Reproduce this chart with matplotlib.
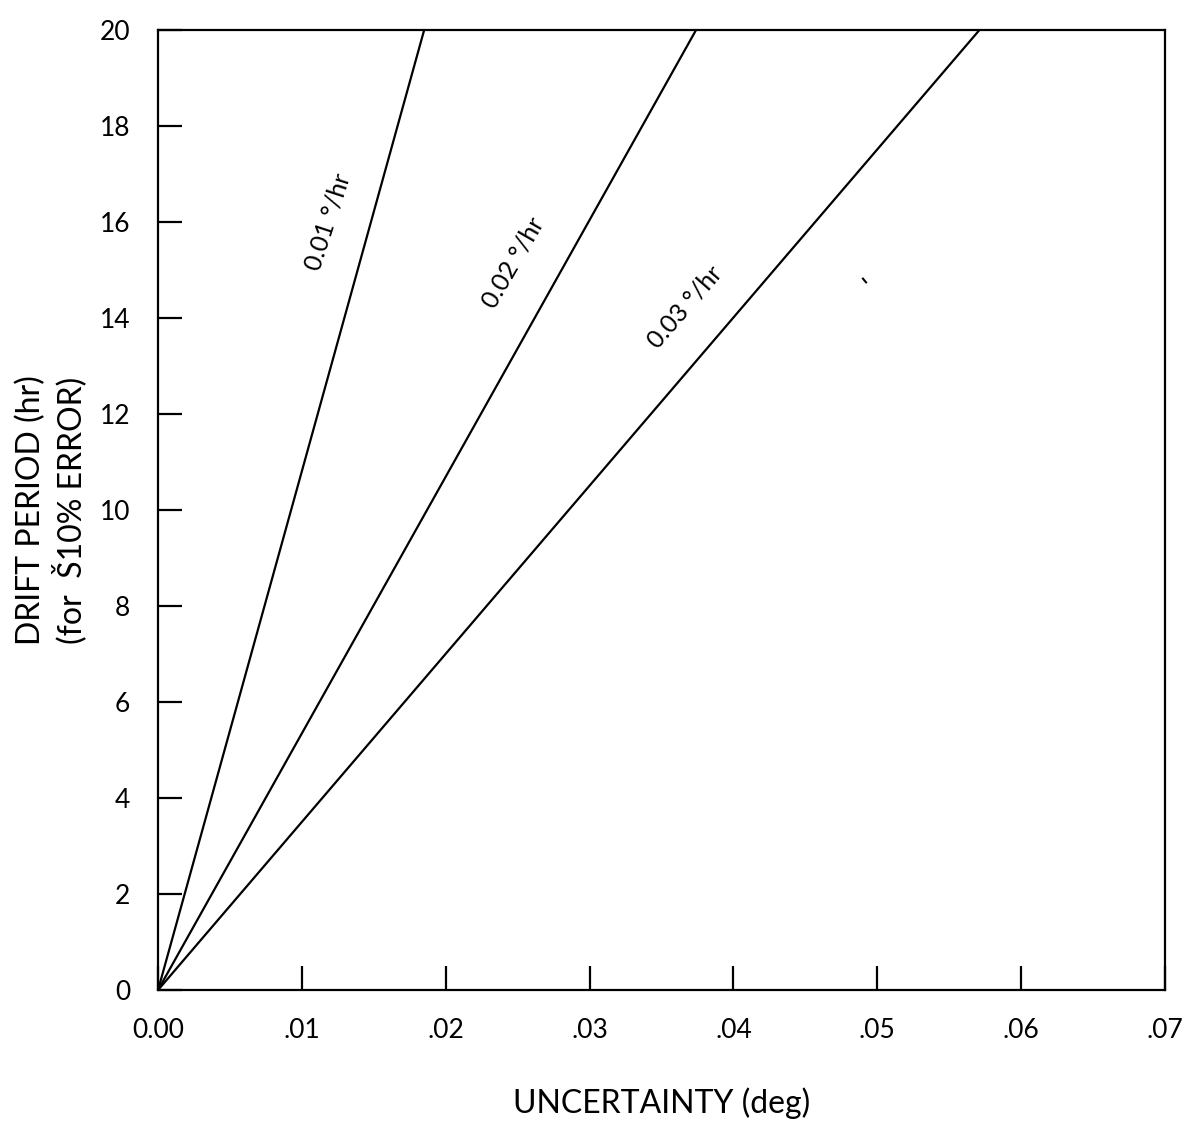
import numpy as np
import matplotlib.pyplot as plt

plt.rcParams['font.family'] = ['Lato', 'DejaVu Sans']

# drift rates and the uncertainty reached at 20 hr
rates = ['0.01 °/hr', '0.02 °/hr', '0.03 °/hr']
end_unc = [0.0185, 0.0374, 0.0571]
end_hr = [20, 20, 20]

# label spots (uncertainty, hours) and angle
lab_x = [0.0118, 0.0247, 0.0366]
lab_y = [16.0, 15.15, 14.23]
lab_rot = [72, 60, 49]

xticks = [0.0, 0.01, 0.02, 0.03, 0.04, 0.05, 0.06, 0.07]
xlabels = ['0.00', '.01', '.02', '.03', '.04', '.05', '.06', '.07']
yticks = list(range(0, 21, 2))

fig = plt.figure(figsize=(11.91, 11.44), dpi=100)
ax = fig.add_axes([0.1327, 0.1346, 0.8455, 0.8392])

for u, h in zip(end_unc, end_hr):
    ax.plot([0, u], [0, h], color='black', lw=1.6)

for t, x, y, r in zip(rates, lab_x, lab_y, lab_rot):
    ax.text(x, y, t, rotation=r, rotation_mode='anchor', ha='center', va='center', fontsize=18)

# small stray mark seen on the original
ax.plot([0.0491], [14.8], marker=(2, 0, 40), ms=5, color='black', mew=1.5)

ax.set_xlim(0, 0.07)
ax.set_ylim(0, 20)
ax.set_xticks(xticks)
ax.set_xticklabels(xlabels)
ax.set_yticks(yticks)
ax.tick_params(direction='in', length=17, width=1.6, labelsize=19, color='black')
ax.tick_params(axis='x', pad=20)
ax.tick_params(axis='y', pad=20)
for s in ax.spines.values():
    s.set_linewidth(1.6)

ax.set_ylabel('DRIFT PERIOD (hr)\n(for  Š10% ERROR)', fontsize=23, labelpad=9, linespacing=1.2)
ax.set_xlabel('UNCERTAINTY (deg)', fontsize=23, labelpad=32)

fig.savefig('out.png', dpi=100)
